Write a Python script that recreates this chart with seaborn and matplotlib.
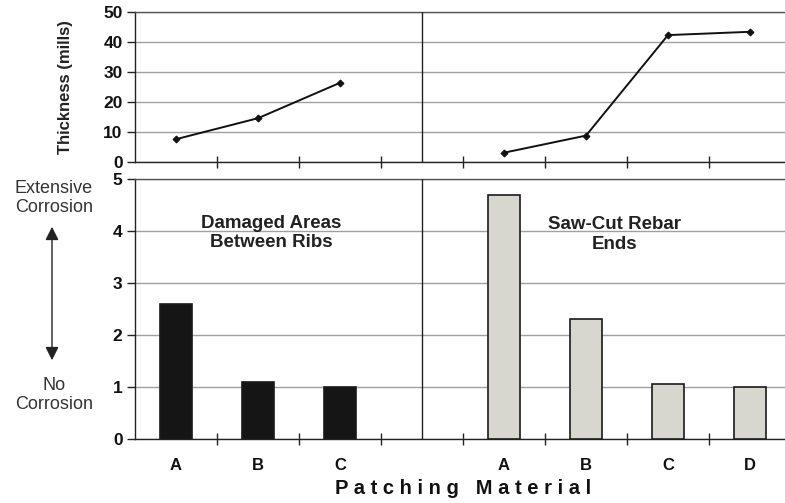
import matplotlib
matplotlib.use("Agg")
import matplotlib.pyplot as plt
import seaborn as sns
import pandas as pd
from matplotlib.ticker import FixedLocator

# ---- data ----
slots = ["DA-A", "DA-B", "DA-C", "gap", "SC-A", "SC-B", "SC-C", "SC-D"]
slot_labels = ["A", "B", "C", "", "A", "B", "C", "D"]

damaged_slots = ["DA-A", "DA-B", "DA-C"]
damaged_thickness = [7.6, 14.6, 26.4]
damaged_rating = [2.6, 1.1, 1.0]

sawcut_slots = ["SC-A", "SC-B", "SC-C", "SC-D"]
sawcut_thickness = [3.1, 8.8, 42.3, 43.4]
sawcut_rating = [4.7, 2.3, 1.06, 1.0]

thick_ticks = [0, 10, 20, 30, 40, 50]
rating_ticks = [0, 1, 2, 3, 4, 5]

# ---- frames ----
df = pd.DataFrame({
    "slot": damaged_slots + sawcut_slots,
    "group": ["Damaged"] * len(damaged_slots) + ["SawCut"] * len(sawcut_slots),
    "thickness": damaged_thickness + sawcut_thickness,
    "rating": damaged_rating + sawcut_rating,
})
df["pos"] = df["slot"].map(lambda s: slots.index(s))

sns.set_theme(style="white")
plt.rcParams["font.family"] = ["Liberation Sans", "DejaVu Sans"]

W, H = 785, 503
fig = plt.figure(figsize=(W / 100, H / 100), dpi=100)

def fr(x0, y0, x1, y1):
    return [x0 / W, 1 - y1 / H, (x1 - x0) / W, (y1 - y0) / H]

ax_top = fig.add_axes(fr(135, 12, 785, 162))
ax_bot = fig.add_axes(fr(135, 179, 785, 439))

xlim = (-0.5, -0.5 + (785 - 135) / 82.0)
grid_col = "#a0a0a0"
spine_col = "#222222"

# ---- top: thickness lines ----
sns.lineplot(data=df, x="pos", y="thickness", hue="group",
             palette={"Damaged": "#111111", "SawCut": "#111111"},
             marker="D", markersize=3.5, linewidth=1.4, legend=False,
             ax=ax_top, markeredgecolor="#111111")
ax_top.set_ylim(0, 50)
ax_top.set_yticks(thick_ticks)
ax_top.set_ylabel("Thickness (mills)", fontsize=12, fontweight="bold",
                  color="#222222")
ax_top.yaxis.set_label_coords((73 - 135) / (785 - 135), 0.5)
ax_top.set_xlabel("")

# ---- bottom: corrosion bars ----
sns.barplot(data=df, x="slot", y="rating", hue="group", order=slots,
            palette={"Damaged": "#151515", "SawCut": "#d9d9cd"},
            dodge=False, width=0.4, edgecolor="#1a1a1a", linewidth=1.2,
            legend=False, ax=ax_bot, zorder=3)
ax_bot.set_ylim(0, 5)
ax_bot.set_yticks(rating_ticks)
ax_bot.set_ylabel("")
ax_bot.set_xlabel("P a t c h i n g   M a t e r i a l", fontsize=14.5,
                  fontweight="bold", color="#111111")
ax_bot.xaxis.set_label_coords((463 - 135) / (785 - 135), -(479 - 439) / 260)

for ax in (ax_top, ax_bot):
    ax.set_xlim(*xlim)
    ax.set_axisbelow(True)
    ax.yaxis.grid(True, color=grid_col, linewidth=1.0)
    ax.xaxis.grid(False)
    ax.set_facecolor("white")
    for side in ("left", "bottom", "top"):
        ax.spines[side].set_visible(True)
        ax.spines[side].set_color(spine_col)
        ax.spines[side].set_linewidth(1.0)
    ax.spines["top"].set_color("#555555")
    ax.spines["right"].set_visible(False)
    ax.axvline(slots.index("gap"), color=spine_col, linewidth=1.0, zorder=4)
    ax.tick_params(axis="y", which="major", left=True, length=6, width=1,
                   color=spine_col, direction="out", labelsize=12.5,
                   pad=3, labelcolor="#111111")
    for lbl in ax.get_yticklabels():
        lbl.set_fontweight("bold")
    ax.xaxis.set_minor_locator(FixedLocator([i + 0.5 for i in range(len(slots) - 1)]))
    ax.tick_params(axis="x", which="minor", bottom=True, length=8, width=1,
                   color=spine_col, direction="inout")

ax_top.set_xticks([])
ax_top.tick_params(axis="x", which="major", bottom=False, labelbottom=False)

ax_bot.set_xticks(range(len(slots)))
ax_bot.set_xticklabels(slot_labels, fontsize=12, fontweight="bold", color="#111111")
ax_bot.tick_params(axis="x", which="major", length=0, pad=14)

# panel titles
ax_bot.text(slots.index("DA-B") + 0.16, 3.96, "Damaged Areas\nBetween Ribs",
            ha="center", va="center", fontsize=13.5, fontweight="bold",
            color="#222222", linespacing=1.15, zorder=5)
ax_bot.text(slots.index("SC-B") + 0.35, 3.93, "Saw-Cut Rebar\nEnds",
            ha="center", va="center", fontsize=13.5, fontweight="bold",
            color="#222222", linespacing=1.2, zorder=5)

# left annotations
fig.text(54 / W, 1 - 198 / H, "Extensive\nCorrosion", ha="center", va="center",
         fontsize=13, color="#333333", linespacing=1.1)
fig.text(54 / W, 1 - 395 / H, "No\nCorrosion", ha="center", va="center",
         fontsize=13, color="#333333", linespacing=1.1)
fig.add_artist(matplotlib.patches.FancyArrowPatch(
    (52 / W, 1 - 224 / H), (52 / W, 1 - 363 / H), transform=fig.transFigure,
    arrowstyle="<|-|>", mutation_scale=20, color="#222222", linewidth=1.0))

fig.savefig("out.png", dpi=100)
